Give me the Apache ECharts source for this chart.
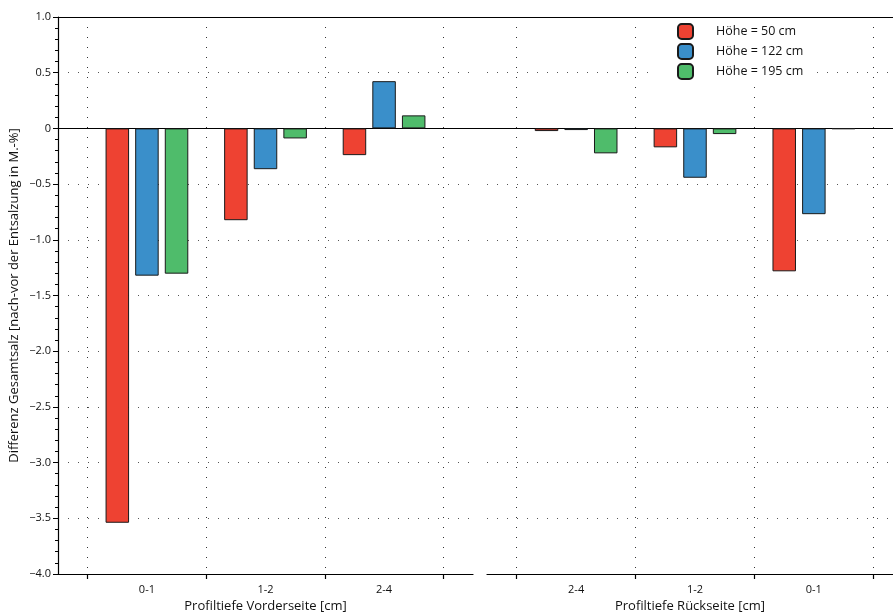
<!DOCTYPE html>
<html>
<head>
<meta charset="utf-8">
<script src="https://cdn.jsdelivr.net/npm/echarts@6/dist/echarts.min.js"></script>
<style>
html,body{margin:0;padding:0;background:#fff;}
#chart{width:893px;height:615px;}
</style>
</head>
<body>
<div id="chart"></div>
<script>
// ---- data ----
const categoriesFront = ['0-1', '1-2', '2-4'];
const categoriesBack = ['2-4', '1-2', '0-1'];
const seriesNames = ['Höhe = 50 cm', 'Höhe = 122 cm', 'Höhe = 195 cm'];
const front50 = [-3.54, -0.824, -0.24];
const front122 = [-1.322, -0.366, 0.424];
const front195 = [-1.304, -0.09, 0.117];
const back50 = [-0.024, -0.17, -1.283];
const back122 = [-0.015, -0.443, -0.77];
const back195 = [-0.224, -0.051, -0.005];
const yMin = -4.0, yMax = 1.0, yStep = 0.5;
const xAxisNameFront = 'Profiltiefe Vorderseite [cm]';
const xAxisNameBack = 'Profiltiefe Rückseite [cm]';
const yAxisName = 'Differenz Gesamtsalz [nach-vor der Entsalzung in M.-%]';

const colors = ['#EE4232', '#3A8FCA', '#4FBC6B'];
const FONT = 'Open Sans';
const pad = 0.25;          // half-category padding at each panel edge
const backVisibleCut = 0.084; // right panel is cut off by the picture edge

function centers(cats) { return cats.map((c, i) => i + 0.5 + pad); }
function bounds(cats) { const b = []; for (let i = 0; i <= cats.length; i++) b.push(i + pad); return b; }

function xAxisFor(gridIndex, cats, name, cut) {
  return {
    type: 'value', gridIndex: gridIndex, min: 0, max: cats.length + 2 * pad - cut, position: 'bottom',
    name: name, nameLocation: 'middle', nameGap: 26,
    nameTextStyle: { fontFamily: FONT, fontSize: 13, color: '#111' },
    axisLine: { onZero: false, lineStyle: { color: '#000', width: 1.2 } },
    axisTick: { show: true, customValues: bounds(cats), length: 5, inside: false, lineStyle: { color: '#000', width: 1.2 } },
    axisLabel: {
      customValues: centers(cats), margin: 10,
      formatter: v => cats[Math.round(v - 0.5 - pad)],
      fontFamily: FONT, fontSize: 11, color: '#111'
    },
    splitLine: { show: true, lineStyle: { type: [1, 9], color: '#333', width: 1 } }
  };
}

function yAxisFor(gridIndex, showLabels) {
  return {
    type: 'value', gridIndex: gridIndex, min: yMin, max: yMax, interval: yStep,
    name: showLabels ? yAxisName : '', nameLocation: 'middle', nameGap: 37, nameRotate: 90,
    nameTextStyle: { fontFamily: FONT, fontSize: 13, color: '#111' },
    axisLine: { show: showLabels, onZero: false, lineStyle: { color: '#000', width: 1.2 } },
    axisTick: { show: showLabels, length: 5, lineStyle: { color: '#000' } },
    minorTick: { show: showLabels, splitNumber: 5, length: 3, lineStyle: { color: '#000' } },
    axisLabel: {
      show: showLabels, margin: 7, fontFamily: FONT, fontSize: 11, color: '#111',
      formatter: v => (Math.abs(v) < 1e-9 ? '0' : v.toFixed(1).replace('-', '\u2212'))
    },
    splitLine: { show: true, lineStyle: { type: [1, 9], color: '#555', width: 1 } }
  };
}

function barSeries(name, idx, gridIdx, cats, values) {
  return {
    name: name, type: 'bar', xAxisIndex: gridIdx, yAxisIndex: gridIdx,
    barWidth: 23.5, barGap: '26%',
    itemStyle: { color: colors[idx], borderColor: '#1a1a1a', borderWidth: 1 },
    data: values.map((v, i) => [centers(cats)[i], v])
  };
}

const chart = echarts.init(document.getElementById('chart'), null, { renderer: 'canvas' });
chart.setOption({
  animation: false,
  backgroundColor: '#fff',
  textStyle: { fontFamily: FONT },
  grid: [
    { left: 58, width: 415, top: 17, bottom: 41, outerBoundsMode: 'none', containLabel: false },
    { left: 487, right: 0, top: 17, bottom: 41, outerBoundsMode: 'none', containLabel: false },
    { left: 58, right: 0, top: 17, bottom: 41, outerBoundsMode: 'none', containLabel: false }
  ],
  xAxis: [
    xAxisFor(0, categoriesFront, xAxisNameFront, 0),
    xAxisFor(1, categoriesBack, xAxisNameBack, backVisibleCut),
    { type: 'value', gridIndex: 2, min: 0, max: 1, position: 'top',
      axisLine: { onZero: false, lineStyle: { color: '#000', width: 1.2 } },
      axisTick: { show: false }, axisLabel: { show: false }, splitLine: { show: false } },
    { type: 'value', gridIndex: 2, min: 0, max: 1, position: 'bottom',
      axisLine: { onZero: true, lineStyle: { color: '#000', width: 1.2 } },
      axisTick: { show: false }, axisLabel: { show: false }, splitLine: { show: false } }
  ],
  yAxis: [
    yAxisFor(0, true),
    yAxisFor(1, false),
    { type: 'value', gridIndex: 2, min: yMin, max: yMax, show: false }
  ],
  legend: {
    data: seriesNames, orient: 'vertical', left: 657, top: 19,
    padding: [4, 12, 5, 20], backgroundColor: '#fff',
    icon: 'roundRect', itemWidth: 15, itemHeight: 15, itemGap: 3,
    textStyle: { fontFamily: FONT, fontSize: 12.5, color: '#111', lineHeight: 16, padding: [0, 0, 0, 18] }
  },
  series: [
    barSeries(seriesNames[0], 0, 0, categoriesFront, front50),
    barSeries(seriesNames[1], 1, 0, categoriesFront, front122),
    barSeries(seriesNames[2], 2, 0, categoriesFront, front195),
    barSeries(seriesNames[0], 0, 1, categoriesBack, back50),
    barSeries(seriesNames[1], 1, 1, categoriesBack, back122),
    barSeries(seriesNames[2], 2, 1, categoriesBack, back195)
  ]
});
</script>
</body>
</html>
